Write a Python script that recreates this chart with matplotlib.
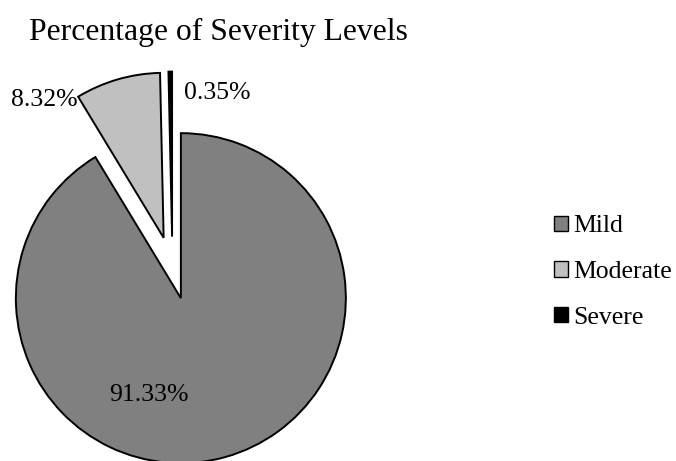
import matplotlib
matplotlib.use("Agg")
import matplotlib.pyplot as plt

categories = ["Mild", "Moderate", "Severe"]
values = [91.33, 8.32, 0.35]
colors = ["#808080", "#c0c0c0", "#000000"]
explode = [0.19, 0.19, 0.19]
title = "Percentage of Severity Levels"

plt.rcParams['font.family'] = ['Liberation Serif', 'DejaVu Serif']

fig = plt.figure(figsize=(6.76, 4.61), dpi=100)
ax = fig.add_axes([0, 0, 1, 1])
wedges, _ = ax.pie(values, colors=colors, explode=explode, startangle=90,
                   counterclock=False, radius=1.0,
                   wedgeprops=dict(edgecolor='black', linewidth=1.4))
ax.set_aspect('auto')
ax.set_xlim(-1.045, 3.052)
ax.set_ylim(-1.170, 1.624)
ax.axis('off')

fs = 18.5
ax.text(-0.143, -0.77, f"{values[0]:.2f}%", ha='center', va='center', fontsize=fs)
ax.text(-0.575, 1.018, f"{values[1]:.2f}%", ha='right', va='center', fontsize=fs)
ax.text(0.07, 1.06, f"{values[2]:.2f}%", ha='left', va='center', fontsize=fs)

ax.text(-0.87, 1.43, title, ha='left', va='center', fontsize=22.8)

leg = ax.legend(wedges, categories, loc='center left',
                bbox_to_anchor=(554 / 676, 1 - 272 / 461),
                frameon=False, fontsize=fs, handlelength=0.55, handleheight=0.55,
                handletextpad=0.2, labelspacing=0.92, borderpad=0, borderaxespad=0)
for h in leg.legend_handles:
    h.set_linewidth(1.0)

fig.savefig("out.png", dpi=100)
